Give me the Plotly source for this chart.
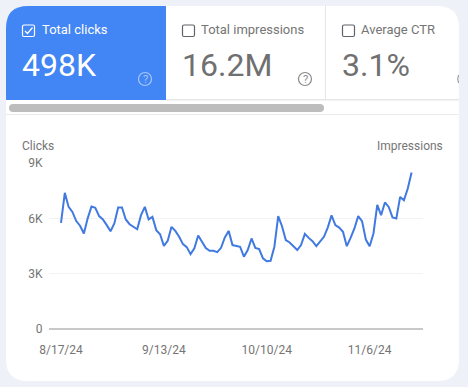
import plotly.graph_objects as go
from datetime import date, timedelta

START = date(2024, 8, 17)
clicks_k = [5.76,7.38,6.62,6.35,5.85,5.6,5.18,6.0,6.64,6.57,6.12,5.94,5.63,5.3,5.72,6.59,6.59,5.94,5.68,5.54,5.41,
            6.17,6.62,5.94,6.08,5.36,5.14,4.51,4.78,5.54,5.32,5.0,4.6,4.44,4.06,4.37,5.07,4.73,4.39,4.24,4.24,4.17,
            4.4,4.96,5.32,4.55,4.49,4.46,3.92,4.28,4.91,4.4,4.33,3.83,3.67,3.7,4.46,6.12,5.57,4.82,4.69,4.49,4.28,
            4.55,5.16,4.94,4.76,4.49,4.73,5.0,5.5,6.16,5.63,5.5,5.27,4.49,4.94,5.45,6.12,5.85,4.85,4.49,5.18,6.73,
            6.17,6.86,6.62,6.05,5.99,7.16,6.98,7.62,8.48]
dates = [(START + timedelta(days=i)).isoformat() for i in range(len(clicks_k))]
clicks = [v * 1000 for v in clicks_k]

x_tick_vals = ["2024-08-17", "2024-09-13", "2024-10-10", "2024-11-06"]
x_tick_text = ["8/17/24", "9/13/24", "10/10/24", "11/6/24"]
y_tick_vals = [0, 3000, 6000, 9000]
y_tick_text = ["0", "3K", "6K", "9K"]

W, H = 468, 387
FONT = "Roboto"
BG = "#eef2f8"
BLUE = "#4285f4"
LINE = "#4079e0"
GREY = "#757575"


def px(v):
    return v / W


def py(v):
    return 1 - v / H


def P(d):
    """Turn a list of (cmd, x, y, ...) pixel tuples into an SVG path in paper units."""
    out = []
    for seg in d:
        c, nums = seg[0], seg[1:]
        parts = []
        for i in range(0, len(nums), 2):
            parts.append(f"{px(nums[i]):.5f},{py(nums[i+1]):.5f}")
        out.append(c + " ".join(parts))
    return " ".join(out)


shapes = []


def path(d, fill=None, line=None, width=0):
    shapes.append(dict(type="path", xref="paper", yref="paper", path=P(d), layer="below",
                       fillcolor=fill or "rgba(0,0,0,0)",
                       line=dict(color=line or "rgba(0,0,0,0)", width=width)))


def rect(x0, y0, x1, y1, fill):
    shapes.append(dict(type="rect", xref="paper", yref="paper", x0=px(x0), x1=px(x1), y0=py(y1), y1=py(y0),
                       fillcolor=fill, line=dict(width=0), layer="below"))


def rrect(x0, y0, x1, y1, r, fill=None, line=None, width=0):
    path([("M", x0 + r, y0), ("L", x1 - r, y0), ("Q", x1, y0, x1, y0 + r), ("L", x1, y1 - r),
          ("Q", x1, y1, x1 - r, y1), ("L", x0 + r, y1), ("Q", x0, y1, x0, y1 - r), ("L", x0, y0 + r),
          ("Q", x0, y0, x0 + r, y0), ("Z",)], fill, line, width)


def circle(cx, cy, r, color):
    shapes.append(dict(type="circle", xref="paper", yref="paper", x0=px(cx - r), x1=px(cx + r),
                       y0=py(cy + r), y1=py(cy - r), line=dict(color=color, width=1.2),
                       fillcolor="rgba(0,0,0,0)", layer="below"))


annotations = []


def text(x, y, s, size, color, anchor="left"):
    annotations.append(dict(xref="paper", yref="paper", x=px(x), y=py(y), text=s, showarrow=False,
                            xanchor=anchor, yanchor="middle", borderpad=0,
                            font=dict(family=FONT, size=size, color=color)))


# card
rrect(6, 6, 459, 381, 22, fill="#ffffff")
# blue tile with rounded top-left
path([("M", 28, 6), ("L", 166, 6), ("L", 166, 100), ("L", 6, 100), ("L", 6, 28), ("Q", 6, 6, 28, 6), ("Z",)], fill=BLUE)
# dividers
rect(325, 6, 326, 100, "#e6e6e6")
rect(166, 99, 459, 100.5, "#e6e6e6")
rect(6, 114, 459, 115, "#ececec")
# scrollbar
rrect(9, 104, 324, 112, 4, fill="#bdbdbd")
# checkboxes
rrect(22.5, 25, 34.5, 36.5, 1.5, line="#ffffff", width=1.2)
path([("M", 25, 31), ("L", 27.5, 33.5), ("L", 32.5, 27.5)], line="#ffffff", width=1.2)
rrect(182.5, 25, 194.5, 36.5, 1.5, line="#5f6368", width=1.2)
rrect(342.5, 25, 354.5, 36.5, 1.5, line="#5f6368", width=1.2)
# help icons
circle(145, 79, 6.5, "#a8c7fa")
circle(305, 79, 6.5, "#8a8a8a")
text(145, 79.5, "?", 11, "#a8c7fa", "center")
text(305, 79.5, "?", 11, "#8a8a8a", "center")
# sliver of next tile's icon at the card edge
path([("M", 458.5, 75), ("Q", 457, 79, 458.5, 83)], line="#8a8a8a", width=1)
# tile labels
text(40.5, 29.5, "Total clicks", 13, "#ffffff")
text(200, 29.5, "Total impressions", 13, GREY)
text(360, 29.5, "Average CTR", 13, GREY)
text(21, 65, "498K", 32, "#ffffff")
text(181, 65, "16.2M", 32, "#707070")
text(341, 65, "3.1%", 32, "#707070")
# axis titles
text(21, 146, "Clicks", 12, GREY)
text(444, 146, "Impressions", 12, GREY, "right")

fig = go.Figure(go.Scatter(x=dates, y=clicks, mode="lines", line=dict(color=LINE, width=2), hoverinfo="skip"))
fig.update_layout(
    width=W, height=H, margin=dict(l=0, r=0, t=0, b=0), autosize=False, showlegend=False,
    paper_bgcolor=BG, plot_bgcolor="rgba(0,0,0,0)", shapes=shapes, annotations=annotations,
    font=dict(family=FONT, size=12, color=GREY),
    xaxis=dict(domain=[px(49), px(423)], type="date", range=["2024-08-13 20:24", "2024-11-20"], automargin=False,
               tickmode="array", tickvals=x_tick_vals, ticktext=x_tick_text, showgrid=False, zeroline=False,
               ticks="outside", ticklen=10, tickcolor="rgba(0,0,0,0)", showline=False,
               tickfont=dict(family=FONT, size=12, color=GREY)),
    yaxis=dict(domain=[py(329), py(163)], range=[0, 9000], tickmode="array", tickvals=y_tick_vals, automargin=False,
               ticktext=y_tick_text, showgrid=True, gridcolor="#f3f3f3", gridwidth=1, zeroline=True,
               zerolinecolor="#c8c8c8", zerolinewidth=1.5, ticks="outside", ticklen=3,
               tickcolor="rgba(0,0,0,0)", showline=False, tickfont=dict(family=FONT, size=12, color=GREY)),
)
fig.write_html("out.html", config=dict(displayModeBar=False),
               post_script="document.body.style.margin='0';document.body.style.overflow='hidden';")
